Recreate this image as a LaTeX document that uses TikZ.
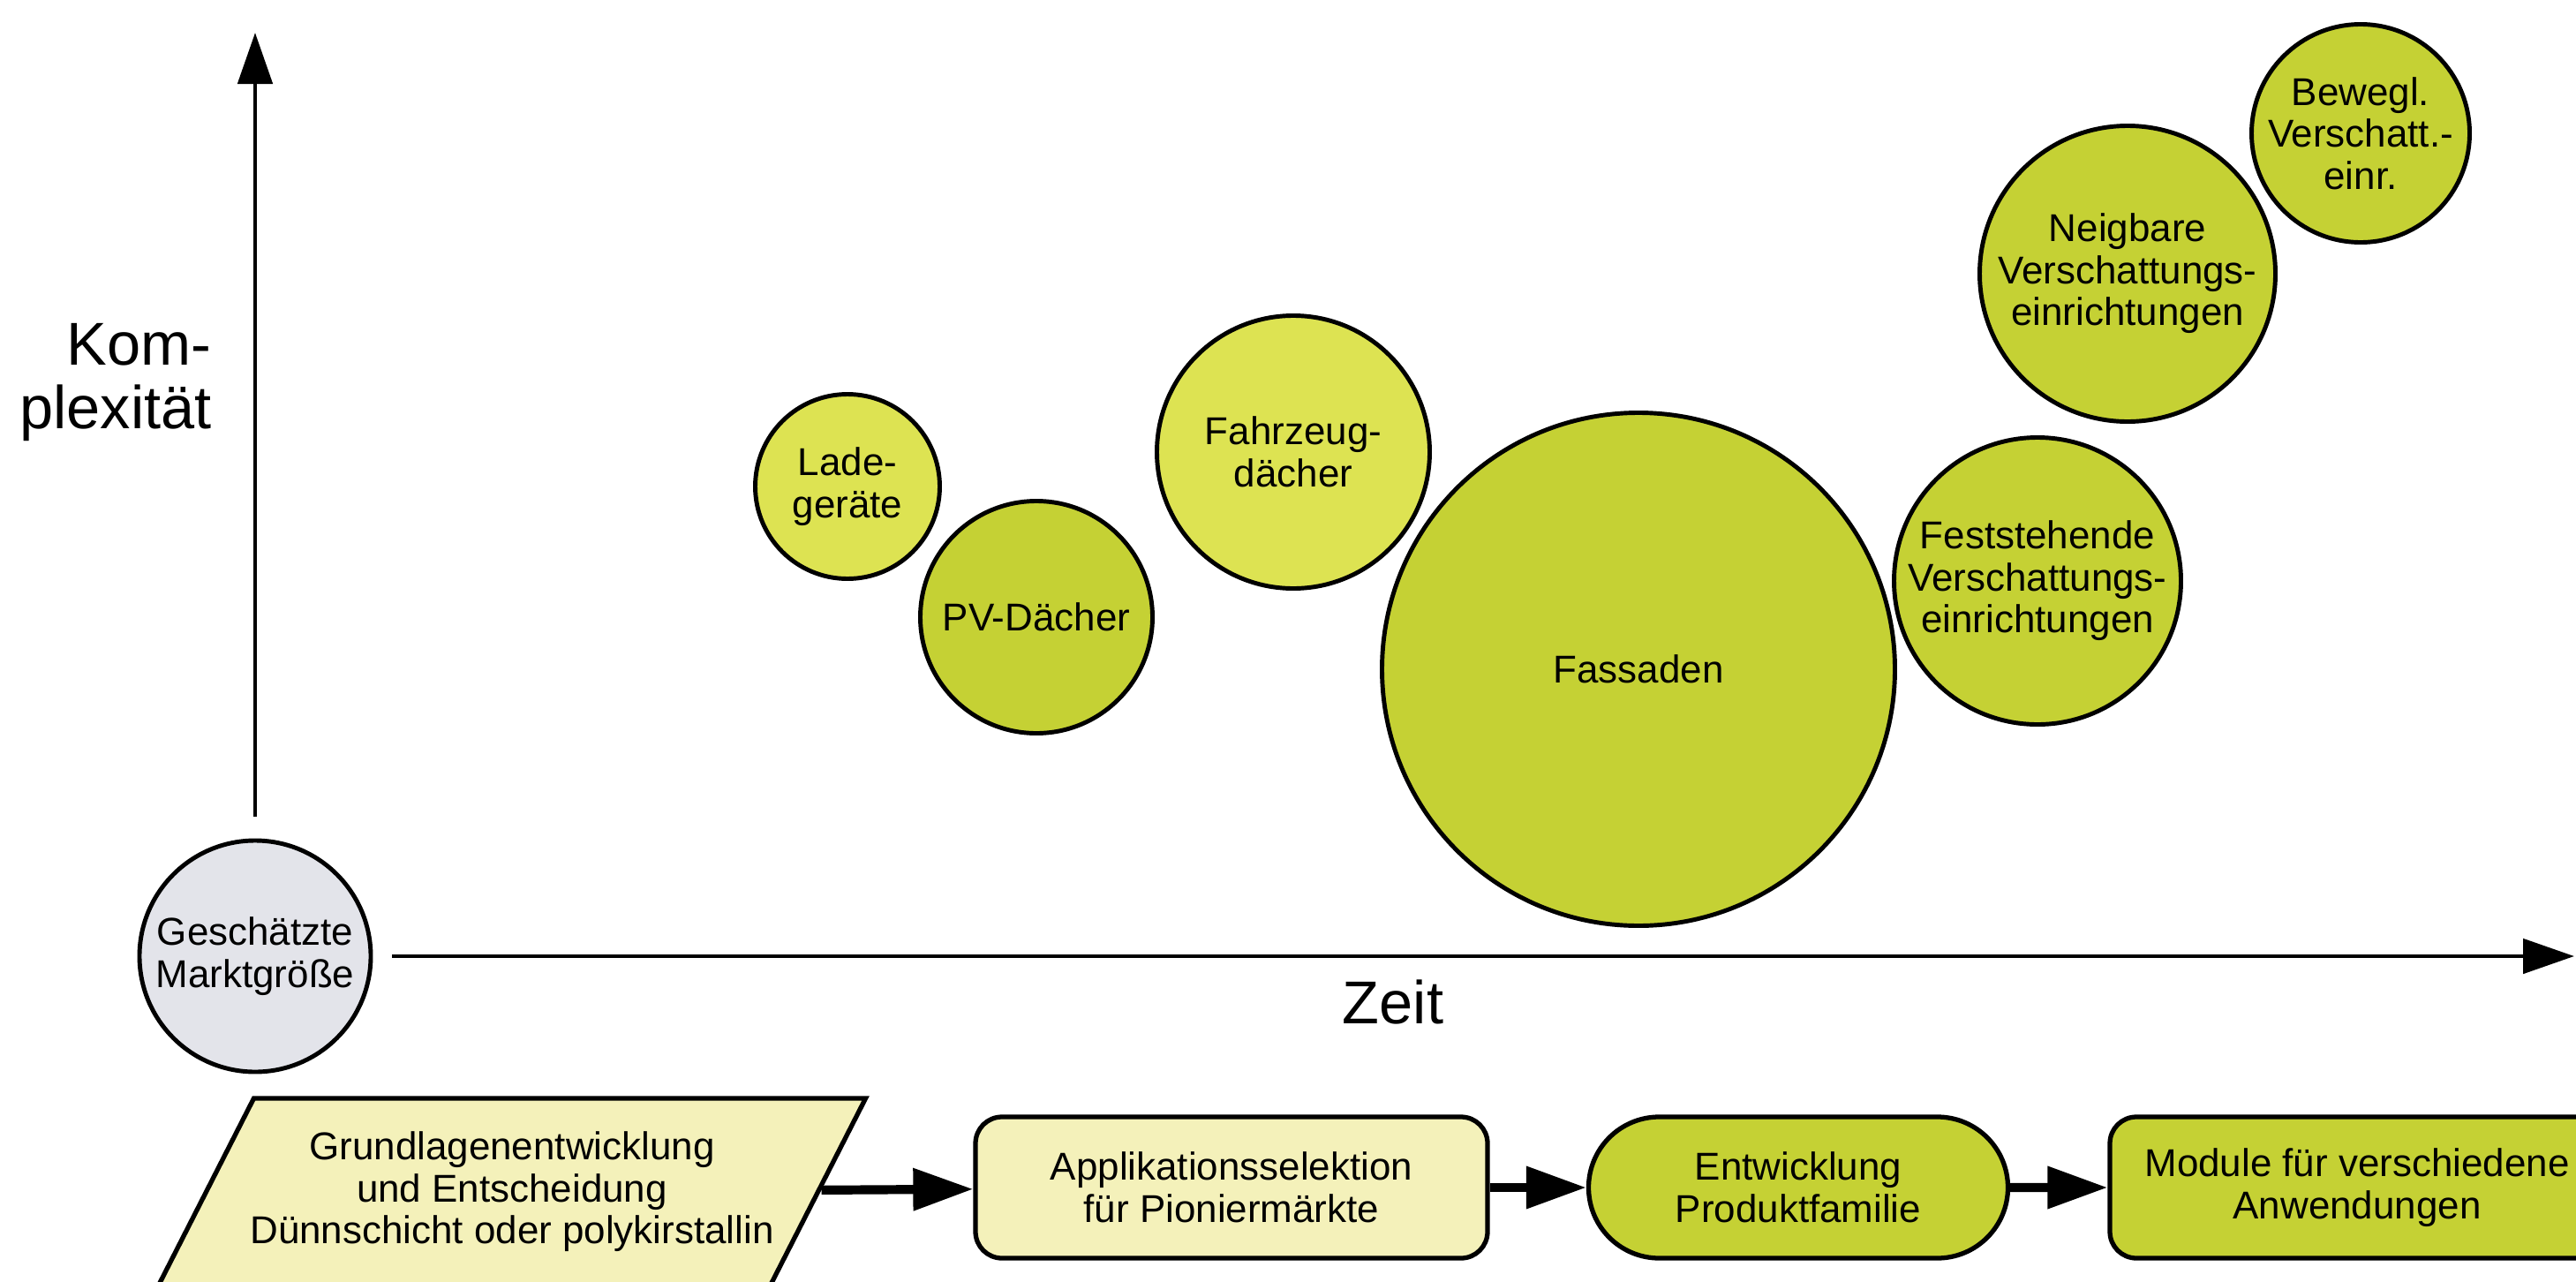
\documentclass[tikz,border=0pt]{standalone}
\usepackage{fontspec}
\setmainfont{Liberation Sans}
\usetikzlibrary{arrows.meta, shapes.geometric, shapes.misc}
\definecolor{leaf}{RGB}{197,209,52}
\definecolor{lime}{RGB}{221,227,82}
\definecolor{cream}{RGB}{244,241,186}
\definecolor{mist}{RGB}{227,228,234}

\begin{document}
\begin{tikzpicture}[x=1cm, y=-1cm,
  bub/.style={draw, circle, line width=1.4pt, fill=leaf, inner sep=0pt, align=center, font=\fontsize{12.5}{13.5}\selectfont},
  box/.style={draw, line width=1.5pt, align=center, minimum height=1.6cm, inner sep=0pt, font=\fontsize{12.5}{13.5}\selectfont},
  big/.style={font=\fontsize{19.5}{20.5}\selectfont},
  axis/.style={line width=1.4pt, -{Triangle[length=0.58cm, width=0.39cm]}},
  flow/.style={line width=2.9pt, -{Triangle[length=0.68cm, width=0.46cm]}}]
\useasboundingbox (0,0) rectangle (29.18,14.52);
\clip (0,0) rectangle (29.18,14.52);

\node[big, align=right, anchor=east] (komp) at (2.52,4.33) {Kom-\\plexität};
\node[big] (zeit) at (15.78,11.35) {Zeit};

\node[bub, fill=mist, minimum size=2.62cm] (ms) at (2.89,10.83) {Geschätzte\\Marktgröße};
\node[bub, fill=lime, minimum size=2.09cm] (lg) at (9.60,5.51) {Lade-\\geräte};
\node[bub, minimum size=2.63cm] (pv) at (11.74,6.99) {PV-Dächer};
\node[bub, fill=lime, minimum size=3.09cm] (fz) at (14.65,5.12) {Fahrzeug-\\dächer};
\node[bub, minimum size=5.81cm] (fa) at (18.56,7.58) {Fassaden};
\node[bub, minimum size=3.25cm] (fv) at (23.08,6.58) {Feststehende\\Verschattungs-\\einrichtungen};
\node[bub, minimum size=3.35cm] (nv) at (24.10,3.10) {Neigbare\\Verschattungs-\\einrichtungen};
\node[bub, minimum size=2.47cm] (bv) at (26.74,1.51) {Bewegl.\\Verschatt.-\\einr.};

\coordinate (ytop) at (2.89,0.37);
\coordinate (xend) at (29.16,10.83);
\draw[axis, shorten <=0.25cm] (ms) -- (ytop);
\draw[axis, shorten <=0.22cm] (ms) -- (xend);

\node[draw, trapezium, trapezium left angle=63, trapezium right angle=117, fill=cream, line width=1.5pt,
  inner xsep=2.925cm, inner ysep=1.06cm,
  label={[align=center, font=\fontsize{12.5}{13.5}\selectfont]center:{Grundlagenentwicklung\\und Entscheidung\\Dünnschicht oder polykirstallin}}] (gl) at (5.80,13.50) {};
\node[box, fill=cream, rounded corners=0.3cm, minimum width=5.80cm] (ap) at (13.95,13.45) {Applikationsselektion\\für Pioniermärkte};
\node[box, rounded rectangle, fill=leaf, minimum width=4.75cm] (ep) at (20.37,13.45) {Entwicklung\\Produktfamilie};
\node[box, fill=leaf, rounded corners=0.3cm, minimum width=5.60cm] (mv) at (26.70,13.45) {Module für verschiedene\\Anwendungen};

\draw[flow] (gl) -- (ap);
\draw[flow] (ap) -- (ep);
\draw[flow] (ep) -- (mv);
\end{tikzpicture}
\end{document}
